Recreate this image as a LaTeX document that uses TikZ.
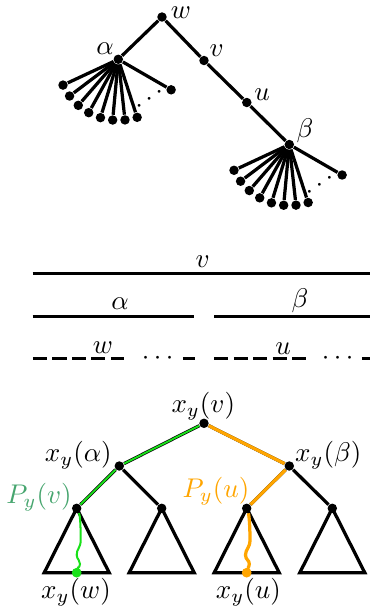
\documentclass[tikz,border=0pt]{standalone}
\usepackage{amsmath,amssymb}
\usepackage{xcolor}
\usetikzlibrary{backgrounds}
\definecolor{pathgreen}{RGB}{25,225,25}
\definecolor{labelgreen}{RGB}{70,165,110}
\definecolor{pathorange}{RGB}{255,165,0}
\tikzset{
  vertex/.style={
    inner sep = 0pt,
    shape = circle,
    minimum size = 3.5pt,
    fill
  },
  lbl/.style={
    inner sep = 1pt
  },
  edge/.style={
    line width = 1.2pt
  },
  dashedge/.style={
    line width = 1.2pt,
    dash pattern = on 5.2pt off 2pt
  },
  greenedge/.style={
    draw = pathgreen,
    line width = 0.7pt
  },
  orangeedge/.style={
    draw = pathorange,
    line width = 1.2pt
  },
  every picture/.style = {
    x=0.37pt, y=-0.37pt
  }
}

\begin{document}
\begin{tikzpicture}
  \useasboundingbox (0,0) rectangle (370,615);
  % upper tree
  \node[vertex] (w) at (162,17) {};
  \node[vertex] (a) at (118.3,59.3) {};
  \node[vertex] (v) at (204,60.5) {};
  \node[vertex] (u) at (246.8,102.5) {};
  \node[vertex] (b) at (289.3,144.5) {};
  \draw[edge] (a) -- (w) -- (v) -- (u) -- (b);
  \foreach \n in {a,b}{
    \foreach \ang [count=\i] in {155,143,131,119,107,95.3,83.7,72,30}{
      \path (\n) ++(\ang:61) node[vertex] (\n\i) {};
      \draw[edge] (\n) -- (\n\i);
    }
  }
  \node[rotate=36, inner sep=0pt] (adots) at (151.7,98.3) {$\cdots$};
  \node[rotate=34, inner sep=0pt] (bdots) at (322.3,184) {$\cdots$};
  \node[lbl] (lw) at (181,13) {$w$};
  \node[lbl] (la) at (105,49) {$\alpha$};
  \node[lbl] (lv) at (216.7,51) {$v$};
  \node[lbl] (lu) at (262,95) {$u$};
  \node[lbl] (lb) at (305,131) {$\beta$};

  % intervals
  \coordinate (iv1) at (32.7,273.3);
  \coordinate (iv2) at (370,273.3);
  \draw[edge] (iv1) -- (iv2);
  \node[lbl] (iv) at (202.7,262) {$v$};
  \coordinate (ia1) at (32.7,316.7);
  \coordinate (ia2) at (194.3,316.7);
  \draw[edge] (ia1) -- (ia2);
  \node[lbl] (ia) at (120,303.3) {$\alpha$};
  \coordinate (ib1) at (214.3,316.7);
  \coordinate (ib2) at (370,316.7);
  \draw[edge] (ib1) -- (ib2);
  \node[lbl] (ib) at (300,300.5) {$\beta$};
  \coordinate (iw1) at (33,358.3);
  \coordinate (iw2) at (124.5,358.3);
  \coordinate (iw3) at (183,358.3);
  \coordinate (iw4) at (195,358.3);
  \draw[dashedge] (iw1) -- (iw2);
  \draw[edge] (iw3) -- (iw4);
  \node[inner sep=0pt] (wdots) at (160,358.3) {$\cdots$};
  \node[lbl] (iw) at (103,348) {$w$};
  \coordinate (iu1) at (214.3,358.3);
  \coordinate (iu2) at (305.8,358.3);
  \coordinate (iu3) at (362,358.3);
  \coordinate (iu4) at (370,358.3);
  \draw[dashedge] (iu1) -- (iu2);
  \draw[edge] (iu3) -- (iu4);
  \node[inner sep=0pt] (udots) at (340,358.3) {$\cdots$};
  \node[lbl] (iu) at (283,349) {$u$};

  % lower tree
  \node[vertex] (r) at (204,423.3) {};
  \node[vertex] (ra) at (119.3,466) {};
  \node[vertex] (rb) at (289.3,466) {};
  \node[vertex] (n1) at (76.7,508.3) {};
  \node[vertex] (n2) at (161.7,508.3) {};
  \node[vertex] (n3) at (246.7,508.3) {};
  \node[vertex] (n4) at (332.3,508.3) {};
  \begin{scope}[on background layer]
    \foreach \n in {n1,n2,n3,n4}
      \draw[edge] (\n.center) -- ++(-32.5,64.4) -- ++(65,0) -- cycle;
  \end{scope}
  \draw[edge] (r) -- (ra) -- (n1);
  \draw[edge] (ra) -- (n2);
  \draw[edge] (r) -- (rb) -- (n4);
  \draw[edge] (rb) -- (n3);
  \draw[greenedge] (r) -- (ra) -- (n1);
  \draw[orangeedge] (r) -- (rb) -- (n3);
  \node[vertex, fill=pathgreen, minimum size=3.6pt] (xw) at (76.7,572.7) {};
  \node[vertex, fill=pathorange, minimum size=3.6pt] (xu) at (246.7,572.7) {};
  \draw[pathgreen, line width=0.75pt] (n1) .. controls (80,515) and (80.7,525) .. (80.7,540)
    .. controls (80.7,548) and (76.5,549) .. (76.7,555)
    .. controls (76.9,560) and (80.5,560) .. (80,564)
    .. controls (79.6,568) and (77,569) .. (xw);
  \draw[pathorange, line width=1.2pt] (n3) .. controls (249,515) and (250,525) .. (250,540)
    .. controls (250,548) and (245.5,549) .. (245.5,555)
    .. controls (245.5,560) and (249.5,560) .. (249.3,564)
    .. controls (249,568) and (247,569) .. (xu);
  \node[lbl] (lxv) at (203.3,406.5) {$x_y(v)$};
  \node[lbl] (lxa) at (78.3,455) {$x_y(\alpha)$};
  \node[lbl] (lxb) at (328.3,455) {$x_y(\beta)$};
  \node[lbl, text=labelgreen] (lpv) at (39,497) {$P_y(v)$};
  \node[lbl, text=pathorange] (lpu) at (216,491) {$P_y(u)$};
  \node[lbl] (lxw) at (76,592) {$x_y(w)$};
  \node[lbl] (lxu) at (248.3,592) {$x_y(u)$};
\end{tikzpicture}
\end{document}
